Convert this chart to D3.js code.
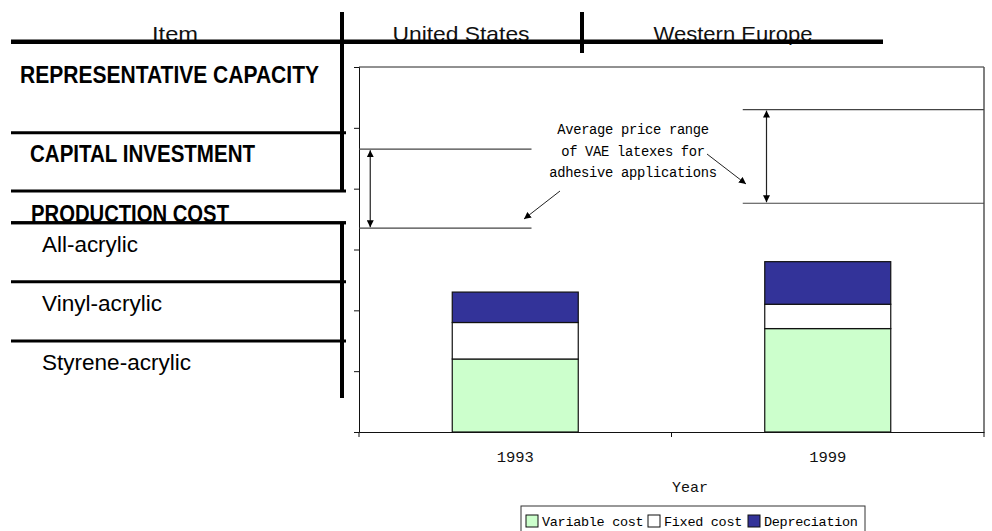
<!DOCTYPE html>
<html><head><meta charset="utf-8">
<script src="https://cdn.jsdelivr.net/npm/d3@7"></script>
<style>body{margin:0;background:#fff}svg{display:block}</style>
</head><body>
<svg id="c" width="992" height="531"></svg>
<script>
// ---- data ----
const categories = ["1993", "1999"];
const seriesNames = ["Variable cost", "Fixed cost", "Depreciation"];
const variableCost = [1.2, 1.7];
const fixedCost = [0.6, 0.4];
const depreciation = [0.5, 0.7];
const priceLow = [3.35, 3.76];
const priceHigh = [4.65, 5.30];
const yTicks = [0, 1, 2, 3, 4, 5, 6];
const headerLabels = ["Item", "United States", "Western Europe"];
const rowLabels = ["REPRESENTATIVE CAPACITY", "CAPITAL INVESTMENT", "PRODUCTION COST", "All-acrylic", "Vinyl-acrylic", "Styrene-acrylic"];
const annotationLines = ["Average price range", "of VAE latexes for", "adhesive applications"];

const colors = ["#CCFFCC", "#FFFFFF", "#333399"];
const svg = d3.select("#c");
const mono = "'Liberation Mono','Courier New',monospace";

// ---- plot ----
const L = 359, R = 984, T = 67, B = 432;
const x = d3.scaleBand().domain(categories).range([L, R]).paddingInner(0.6).paddingOuter(0.3);
const y = d3.scaleLinear().domain([0, 6]).range([B, T]);

// frame top & right
svg.append("line").attr("x1", L).attr("x2", R).attr("y1", T).attr("y2", T).attr("stroke", "#222").attr("stroke-width", 1);
svg.append("line").attr("x1", R).attr("x2", R).attr("y1", T).attr("y2", B).attr("stroke", "#555").attr("stroke-width", 1.5);

// stacked bars
const table = categories.map((c, i) => ({cat: c, "Variable cost": variableCost[i], "Fixed cost": fixedCost[i], "Depreciation": depreciation[i]}));
const stacked = d3.stack().keys(seriesNames)(table);
const bw = 126;
svg.append("g").selectAll("g").data(stacked).join("g")
  .attr("fill", (d, i) => colors[i])
  .selectAll("rect").data(d => d).join("rect")
  .attr("x", d => x(d.data.cat) + x.bandwidth() / 2 - bw / 2)
  .attr("width", bw)
  .attr("y", d => y(d[1]))
  .attr("height", d => y(d[0]) - y(d[1]))
  .attr("stroke", "#111").attr("stroke-width", 1.2);

// axes
const yAxis = svg.append("g").attr("transform", `translate(${L},0)`)
  .call(d3.axisLeft(y).tickValues(yTicks).tickFormat("").tickSizeOuter(0).tickSize(5));
yAxis.selectAll("path,line").attr("stroke", "#111");
const xAxis = svg.append("g").attr("transform", `translate(0,${B})`)
  .call(d3.axisBottom(x).tickSize(0).tickSizeOuter(0));
xAxis.select("path").attr("stroke", "#111");
xAxis.selectAll("text").attr("font-family", mono).attr("font-size", 15.5).attr("fill", "#111").attr("dy", null).attr("y", 30);
// category-boundary ticks
const bounds = [L, (x(categories[0]) + x.bandwidth() / 2 + x(categories[1]) + x.bandwidth() / 2) / 2, R];
svg.append("g").selectAll("line").data(bounds).join("line")
  .attr("x1", d => d).attr("x2", d => d).attr("y1", B).attr("y2", B + 5).attr("stroke", "#111");

svg.append("text").attr("x", 690).attr("y", 492).attr("text-anchor", "middle")
  .attr("font-family", mono).attr("font-size", 15).attr("fill", "#111").text("Year");

// price range annotations
const defs = svg.append("defs");
defs.append("marker").attr("id", "ah").attr("viewBox", "0 0 10 10").attr("refX", 10).attr("refY", 5)
  .attr("markerWidth", 7).attr("markerHeight", 7).attr("orient", "auto-start-reverse").attr("markerUnits", "userSpaceOnUse")
  .append("path").attr("d", "M0,0L10,5L0,10Z").attr("fill", "#000");
const W = R - L;
const rangeSpans = [[0, 0.276, 0.018], [0.614, 1, 0.652]];
categories.forEach((c, i) => {
  const [a, b, ax] = rangeSpans[i];
  [priceHigh[i], priceLow[i]].forEach(v => {
    svg.append("line").attr("x1", L + a * W).attr("x2", L + b * W).attr("y1", y(v)).attr("y2", y(v))
      .attr("stroke", "#444").attr("stroke-width", 1.2);
  });
  svg.append("line").attr("x1", L + ax * W).attr("x2", L + ax * W).attr("y1", y(priceHigh[i]) + 1).attr("y2", y(priceLow[i]) - 1)
    .attr("stroke", "#222").attr("stroke-width", 1.2)
    .attr("marker-start", "url(#ah)").attr("marker-end", "url(#ah)");
});
annotationLines.forEach((t, i) => {
  svg.append("text").attr("x", 633).attr("y", 134 + i * 21.5).attr("text-anchor", "middle")
    .attr("font-family", mono).attr("font-size", 13.8).attr("letter-spacing", -0.3).attr("fill", "#000").text(t);
});
svg.append("line").attr("x1", 560).attr("y1", 191).attr("x2", 524).attr("y2", 219)
  .attr("stroke", "#222").attr("stroke-width", 1).attr("marker-end", "url(#ah)");
svg.append("line").attr("x1", 707).attr("y1", 154).attr("x2", 746).attr("y2", 184)
  .attr("stroke", "#222").attr("stroke-width", 1).attr("marker-end", "url(#ah)");

// legend
const lg = svg.append("g");
lg.append("rect").attr("x", 521).attr("y", 506).attr("width", 344).attr("height", 30).attr("fill", "#fff").attr("stroke", "#333");
const legX = [526, 648, 748];
seriesNames.forEach((s, i) => {
  lg.append("rect").attr("x", legX[i]).attr("y", 515).attr("width", 12).attr("height", 12).attr("fill", colors[i]).attr("stroke", "#111");
  lg.append("text").attr("x", legX[i] + 16).attr("y", 526).attr("font-family", mono).attr("font-size", 13.5).attr("letter-spacing", -0.3)
    .attr("fill", "#000").text(s);
});

// ---- left table overlay ----
const tg = svg.append("g");
const thick = (x1, y1, x2, y2, w) => tg.append("line").attr("x1", x1).attr("y1", y1).attr("x2", x2).attr("y2", y2).attr("stroke", "#000").attr("stroke-width", w);
const sans = "'Liberation Sans',Arial,sans-serif";
const narrow = "'Liberation Sans Narrow','Arial Narrow','Liberation Sans',sans-serif";
const headerPos = [[175, 46], [461, 137], [733, 159]];
headerLabels.forEach((t, i) => {
  tg.append("text").attr("x", headerPos[i][0]).attr("y", 40.5).attr("text-anchor", "middle")
    .attr("font-family", sans).attr("font-size", 21).attr("font-weight", 300).attr("fill", "#111")
    .attr("textLength", headerPos[i][1]).attr("lengthAdjust", "spacingAndGlyphs").text(t);
});
thick(11, 41.7, 883, 41.7, 4.5);
thick(342, 12, 342, 191, 4);
thick(342, 223, 342, 398, 4);
thick(582, 12, 582, 53, 4);
[132.7, 191, 222.7, 281.7, 341].forEach(v => thick(11, v, 346, v, 3));
const rowPos = [[20, 82.7, 299, true], [30, 161.5, 225, true], [31, 221.5, 198, true], [42, 251.7, 96, false], [42, 311, 120, false], [42, 370, 149, false]];
rowLabels.forEach((t, i) => {
  const [px, py, tl, bold] = rowPos[i];
  tg.append("text").attr("x", px).attr("y", py)
    .attr("font-family", bold ? narrow : sans).attr("font-size", bold ? 23 : 21.5).attr("font-weight", bold ? "bold" : "normal")
    .attr("fill", "#000").attr("textLength", tl).attr("lengthAdjust", "spacingAndGlyphs").text(t);
});
// redraw the PRODUCTION COST underline on top of text
thick(11, 222.7, 346, 222.7, 3);
</script>
</body></html>
